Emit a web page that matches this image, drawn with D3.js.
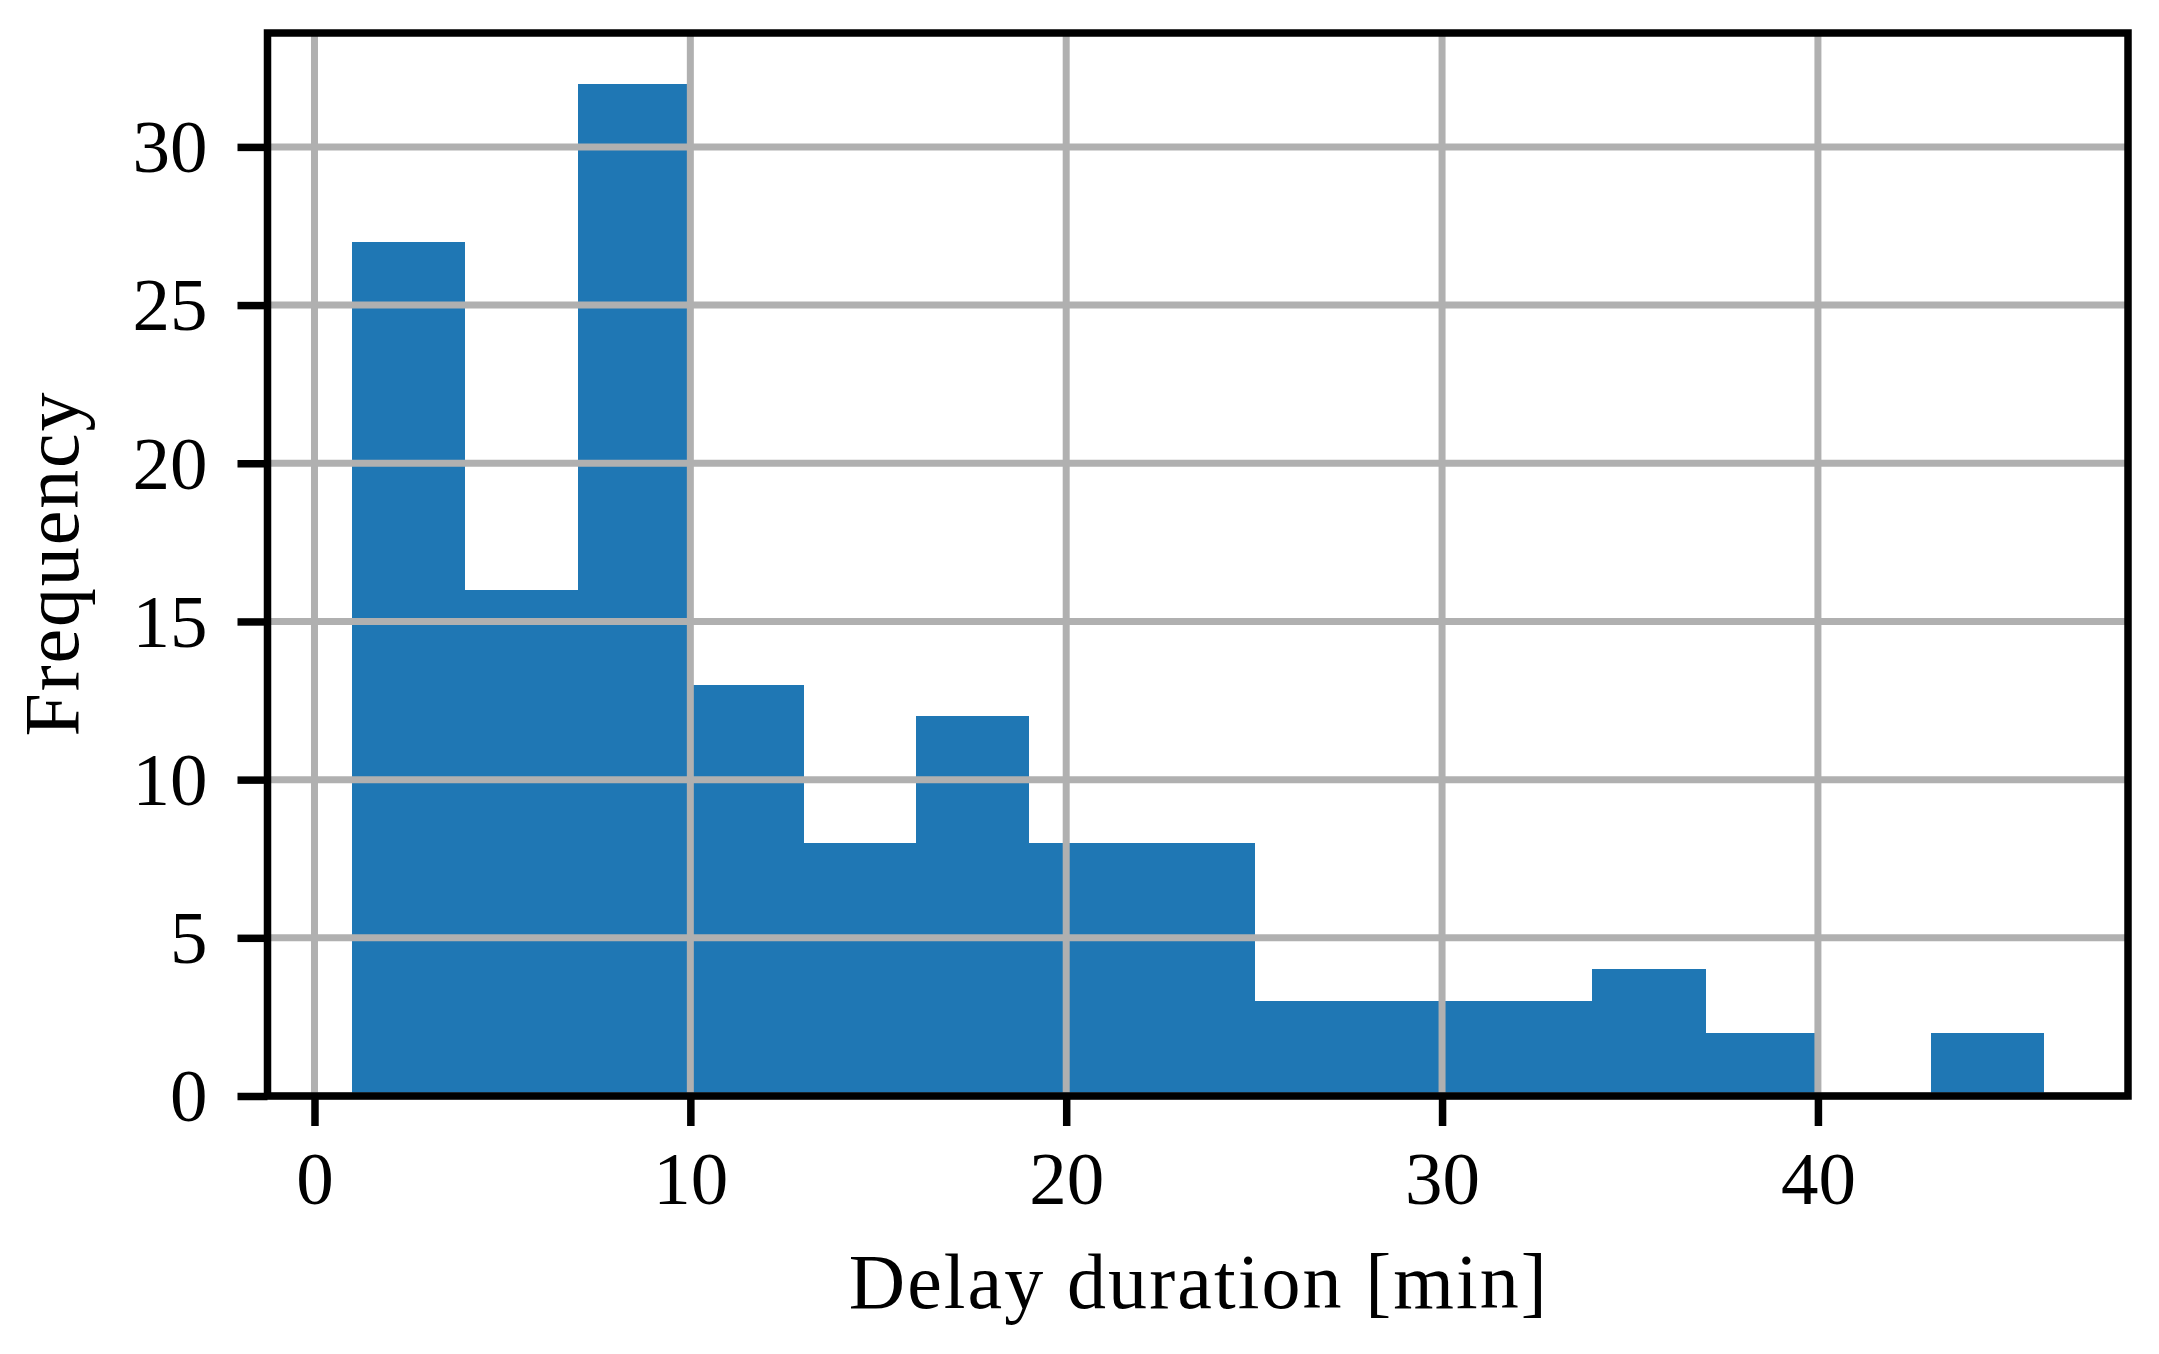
<!DOCTYPE html>
<html>
<head>
<meta charset="utf-8">
<script src="https://cdn.jsdelivr.net/npm/d3@7"></script>
<style>
  body { margin: 0; background: #fff; }
  svg { display: block; }
</style>
</head>
<body>
<script>
// histogram bins (delay duration in minutes) and counts
const binEdges = [1, 4, 7, 10, 13, 16, 19, 22, 25, 28, 31, 34, 37, 40, 43, 46]
const counts = [27, 16, 32, 13, 8, 12, 8, 8, 3, 3, 3, 4, 2, 0, 2]
const xTicks = [0, 10, 20, 30, 40]
const yTicks = [0, 5, 10, 15, 20, 25, 30]

const width = 2159, height = 1354
const margin = { top: 33, right: 31, bottom: 258, left: 267.5 }
const font = "'Liberation Serif', 'Times New Roman', serif"
const fontSize = 75

const bins = counts.map((c, i) => ({ x0: binEdges[i], x1: binEdges[i + 1], n: c }))

const svg = d3.select("body").append("svg")
    .attr("width", width)
    .attr("height", height)

const xMin = binEdges[0], xMax = binEdges[binEdges.length - 1]
const pad = (xMax - xMin) * 0.05
const x = d3.scaleLinear()
    .domain([xMin - pad, xMax + pad])
    .range([margin.left, width - margin.right])

const yMax = d3.max(counts) * 1.05
const y = d3.scaleLinear()
    .domain([0, yMax])
    .range([height - margin.bottom, margin.top])

// bars
svg.append("g")
    .attr("shape-rendering", "crispEdges")
    .selectAll("rect")
    .data(bins)
    .enter()
    .append("rect")
    .attr("x", d => x(d.x0))
    .attr("width", d => x(d.x1) - x(d.x0) + 0.5)
    .attr("y", d => y(d.n))
    .attr("height", d => y(0) - y(d.n))
    .attr("fill", "#1f77b4")

// grid (on top of the bars, like the reference)
const grid = svg.append("g")
    .attr("stroke", "#b0b0b0")
    .attr("stroke-width", 7)

grid.selectAll("line.gx")
    .data(xTicks)
    .enter()
    .append("line")
    .attr("x1", d => x(d)).attr("x2", d => x(d))
    .attr("y1", y(0)).attr("y2", y(yMax))

grid.selectAll("line.gy")
    .data(yTicks)
    .enter()
    .append("line")
    .attr("x1", x.range()[0]).attr("x2", x.range()[1])
    .attr("y1", d => y(d)).attr("y2", d => y(d))

// axes
const xAxis = d3.axisBottom(x)
    .tickValues(xTicks)
    .tickFormat(d3.format("d"))
    .tickSize(30)
    .tickPadding(24)

const yAxis = d3.axisLeft(y)
    .tickValues(yTicks)
    .tickFormat(d3.format("d"))
    .tickSize(30)
    .tickPadding(30)

const gx = svg.append("g")
    .attr("transform", `translate(0 ${y(0)})`)
    .call(xAxis)

const gy = svg.append("g")
    .attr("transform", `translate(${x.range()[0]} 0)`)
    .call(yAxis)

for (const g of [gx, gy]) {
    g.select(".domain").remove()
    g.selectAll(".tick line")
        .attr("stroke", "#000")
        .attr("stroke-width", 7.5)
    g.selectAll(".tick text")
        .attr("fill", "#000")
        .style("font-family", font)
        .style("font-size", `${fontSize}px`)
}
gx.selectAll(".tick text").attr("dy", "0.72em")
gy.selectAll(".tick text").attr("dy", "0.33em")

// frame
svg.append("rect")
    .attr("x", x.range()[0])
    .attr("y", y.range()[1])
    .attr("width", x.range()[1] - x.range()[0])
    .attr("height", y.range()[0] - y.range()[1])
    .attr("fill", "none")
    .attr("stroke", "#000")
    .attr("stroke-width", 7.5)
    .attr("stroke-linecap", "square")

// axis labels
svg.append("text")
    .attr("x", (x.range()[0] + x.range()[1]) / 2)
    .attr("y", 1308)
    .attr("text-anchor", "middle")
    .attr("textLength", 698)
    .attr("lengthAdjust", "spacing")
    .style("font-family", font)
    .style("font-size", "78px")
    .text("Delay duration [min]")

svg.append("text")
    .attr("transform", `translate(78 ${(y.range()[0] + y.range()[1]) / 2}) rotate(-90)`)
    .attr("text-anchor", "middle")
    .attr("textLength", 344)
    .attr("lengthAdjust", "spacing")
    .style("font-family", font)
    .style("font-size", "78px")
    .text("Frequency")
</script>
</body>
</html>
